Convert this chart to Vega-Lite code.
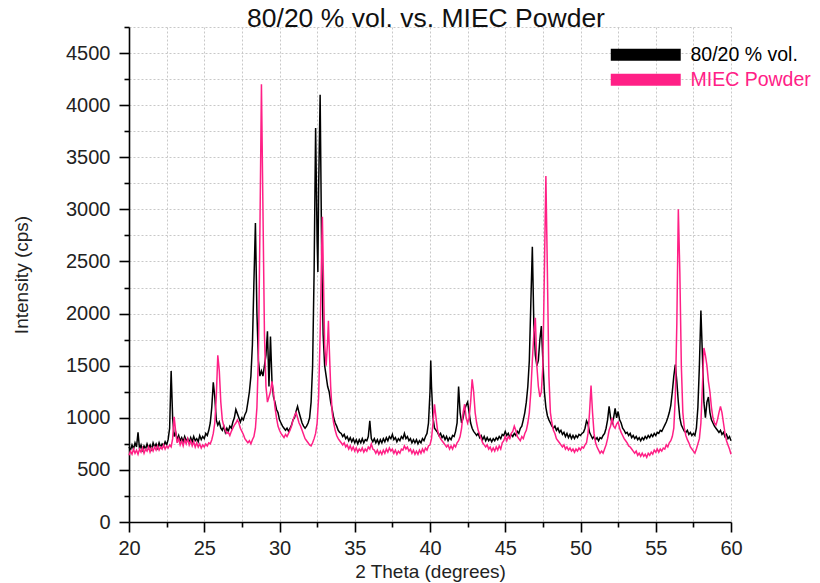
{
"$schema": "https://vega.github.io/schema/vega-lite/v6.json",
"width": 602, "height": 495,
"autosize": {"type": "none"},
"padding": {"left": 129, "top": 27, "right": 89, "bottom": 61},
"background": "white",
"title": {"text": "80/20 % vol. vs. MIEC Powder", "fontSize": 26.5, "fontWeight": "normal", "font": "Liberation Sans", "color": "#111111", "baseline": "alphabetic", "offset": -36, "anchor": "middle", "dx": -4},
"config": {
  "view": {"stroke": null},
  "axis": {"domainColor": "#000000", "domainWidth": 1.6, "tickColor": "#000000", "tickWidth": 1.6, "tickSize": 10, "labelColor": "#222222", "labelFont": "Liberation Sans", "labelFontSize": 20, "titleFont": "Liberation Sans", "titleFontSize": 19, "titleFontWeight": "normal", "titleColor": "#222222", "grid": true, "gridColor": "#c8c8c8", "gridDash": [2, 2], "gridWidth": 1}
},
"datasets": {
"black": [
{"x":20.0,"y":720},{"x":20.1,"y":690},{"x":20.2,"y":740},{"x":20.3,"y":700},{"x":20.4,"y":760},{"x":20.5,"y":720},{"x":20.6,"y":860},{"x":20.7,"y":700},{"x":20.8,"y":740},{"x":20.9,"y":690},
{"x":21.0,"y":730},{"x":21.1,"y":700},{"x":21.2,"y":750},{"x":21.3,"y":710},{"x":21.4,"y":740},{"x":21.5,"y":700},{"x":21.6,"y":760},{"x":21.7,"y":720},{"x":21.8,"y":750},{"x":21.9,"y":710},
{"x":22.0,"y":760},{"x":22.1,"y":720},{"x":22.2,"y":750},{"x":22.3,"y":730},{"x":22.4,"y":770},{"x":22.5,"y":740},{"x":22.6,"y":790},{"x":22.7,"y":900},{"x":22.8,"y":1450},{"x":22.9,"y":1000},
{"x":23.0,"y":820},{"x":23.1,"y":860},{"x":23.2,"y":790},{"x":23.3,"y":830},{"x":23.4,"y":780},{"x":23.5,"y":810},{"x":23.6,"y":770},{"x":23.7,"y":820},{"x":23.8,"y":780},{"x":23.9,"y":800},
{"x":24.0,"y":760},{"x":24.1,"y":810},{"x":24.2,"y":770},{"x":24.3,"y":820},{"x":24.4,"y":780},{"x":24.5,"y":800},{"x":24.6,"y":770},{"x":24.7,"y":830},{"x":24.8,"y":790},{"x":24.9,"y":820},
{"x":25.0,"y":800},{"x":25.1,"y":850},{"x":25.2,"y":830},{"x":25.3,"y":880},{"x":25.4,"y":950},{"x":25.5,"y":1100},{"x":25.6,"y":1340},{"x":25.7,"y":1200},{"x":25.8,"y":980},{"x":25.9,"y":930},
{"x":26.0,"y":960},{"x":26.1,"y":900},{"x":26.2,"y":880},{"x":26.3,"y":920},{"x":26.4,"y":860},{"x":26.5,"y":900},{"x":26.6,"y":870},{"x":26.7,"y":920},{"x":26.8,"y":900},{"x":26.9,"y":960},
{"x":27.0,"y":1000},{"x":27.1,"y":1080},{"x":27.2,"y":1040},{"x":27.3,"y":1000},{"x":27.4,"y":960},{"x":27.5,"y":1000},{"x":27.6,"y":980},{"x":27.7,"y":1030},{"x":27.8,"y":1060},{"x":27.9,"y":1150},
{"x":28.0,"y":1250},{"x":28.1,"y":1400},{"x":28.2,"y":1700},{"x":28.3,"y":2300},{"x":28.4,"y":2870},{"x":28.5,"y":2000},{"x":28.6,"y":1550},{"x":28.7,"y":1400},{"x":28.8,"y":1450},{"x":28.9,"y":1400},
{"x":29.0,"y":1500},{"x":29.1,"y":1600},{"x":29.2,"y":1830},{"x":29.3,"y":1300},{"x":29.4,"y":1780},{"x":29.5,"y":1350},{"x":29.6,"y":1200},{"x":29.7,"y":1150},{"x":29.8,"y":1080},{"x":29.9,"y":1050},
{"x":30.0,"y":980},{"x":30.1,"y":950},{"x":30.2,"y":920},{"x":30.3,"y":900},{"x":30.4,"y":880},{"x":30.5,"y":900},{"x":30.6,"y":870},{"x":30.7,"y":900},{"x":30.8,"y":930},{"x":30.9,"y":980},
{"x":31.0,"y":1000},{"x":31.1,"y":1060},{"x":31.2,"y":1110},{"x":31.3,"y":1050},{"x":31.4,"y":1000},{"x":31.5,"y":950},{"x":31.6,"y":920},{"x":31.7,"y":900},{"x":31.8,"y":920},{"x":31.9,"y":950},
{"x":32.0,"y":1000},{"x":32.1,"y":1150},{"x":32.2,"y":1500},{"x":32.3,"y":2400},{"x":32.4,"y":3780},{"x":32.5,"y":2700},{"x":32.55,"y":2400},{"x":32.6,"y":3200},{"x":32.7,"y":4100},{"x":32.8,"y":2600},{"x":32.9,"y":1800},
{"x":33.0,"y":1500},{"x":33.1,"y":1400},{"x":33.2,"y":1300},{"x":33.3,"y":1250},{"x":33.4,"y":1150},{"x":33.5,"y":1080},{"x":33.6,"y":1000},{"x":33.7,"y":950},{"x":33.8,"y":920},{"x":33.9,"y":880},
{"x":34.0,"y":860},{"x":34.1,"y":850},{"x":34.2,"y":820},{"x":34.3,"y":840},{"x":34.4,"y":800},{"x":34.5,"y":820},{"x":34.6,"y":780},{"x":34.7,"y":810},{"x":34.8,"y":770},{"x":34.9,"y":800},
{"x":35.0,"y":760},{"x":35.1,"y":790},{"x":35.2,"y":750},{"x":35.3,"y":790},{"x":35.4,"y":760},{"x":35.5,"y":800},{"x":35.6,"y":760},{"x":35.7,"y":790},{"x":35.8,"y":780},{"x":35.9,"y":820},
{"x":36.0,"y":970},{"x":36.1,"y":800},{"x":36.2,"y":770},{"x":36.3,"y":800},{"x":36.4,"y":760},{"x":36.5,"y":790},{"x":36.6,"y":750},{"x":36.7,"y":790},{"x":36.8,"y":760},{"x":36.9,"y":800},
{"x":37.0,"y":770},{"x":37.1,"y":810},{"x":37.2,"y":780},{"x":37.3,"y":820},{"x":37.4,"y":800},{"x":37.5,"y":840},{"x":37.6,"y":790},{"x":37.7,"y":810},{"x":37.8,"y":770},{"x":37.9,"y":800},
{"x":38.0,"y":780},{"x":38.1,"y":820},{"x":38.2,"y":800},{"x":38.3,"y":850},{"x":38.4,"y":800},{"x":38.5,"y":820},{"x":38.6,"y":780},{"x":38.7,"y":800},{"x":38.8,"y":760},{"x":38.9,"y":790},
{"x":39.0,"y":760},{"x":39.1,"y":790},{"x":39.2,"y":750},{"x":39.3,"y":780},{"x":39.4,"y":760},{"x":39.5,"y":800},{"x":39.6,"y":780},{"x":39.7,"y":820},{"x":39.8,"y":850},{"x":39.9,"y":950},
{"x":40.0,"y":1250},{"x":40.05,"y":1550},{"x":40.1,"y":1300},{"x":40.2,"y":1000},{"x":40.3,"y":900},{"x":40.4,"y":880},{"x":40.5,"y":860},{"x":40.6,"y":830},{"x":40.7,"y":850},{"x":40.8,"y":810},{"x":40.9,"y":830},
{"x":41.0,"y":790},{"x":41.1,"y":820},{"x":41.2,"y":780},{"x":41.3,"y":810},{"x":41.4,"y":790},{"x":41.5,"y":830},{"x":41.6,"y":820},{"x":41.7,"y":870},{"x":41.8,"y":950},{"x":41.9,"y":1300},
{"x":42.0,"y":1050},{"x":42.1,"y":950},{"x":42.2,"y":1000},{"x":42.3,"y":1080},{"x":42.4,"y":1120},{"x":42.5,"y":1150},{"x":42.6,"y":1050},{"x":42.7,"y":950},{"x":42.8,"y":900},{"x":42.9,"y":870},
{"x":43.0,"y":850},{"x":43.1,"y":830},{"x":43.2,"y":850},{"x":43.3,"y":810},{"x":43.4,"y":830},{"x":43.5,"y":790},{"x":43.6,"y":820},{"x":43.7,"y":780},{"x":43.8,"y":810},{"x":43.9,"y":780},
{"x":44.0,"y":800},{"x":44.1,"y":770},{"x":44.2,"y":800},{"x":44.3,"y":780},{"x":44.4,"y":810},{"x":44.5,"y":790},{"x":44.6,"y":820},{"x":44.7,"y":800},{"x":44.8,"y":840},{"x":44.9,"y":830},
{"x":45.0,"y":870},{"x":45.1,"y":830},{"x":45.2,"y":850},{"x":45.3,"y":810},{"x":45.4,"y":840},{"x":45.5,"y":820},{"x":45.6,"y":850},{"x":45.7,"y":830},{"x":45.8,"y":870},{"x":45.9,"y":850},
{"x":46.0,"y":900},{"x":46.1,"y":920},{"x":46.2,"y":980},{"x":46.3,"y":1050},{"x":46.4,"y":1150},{"x":46.5,"y":1300},{"x":46.6,"y":1550},{"x":46.7,"y":2100},{"x":46.8,"y":2640},{"x":46.9,"y":1900},
{"x":47.0,"y":1600},{"x":47.1,"y":1500},{"x":47.2,"y":1550},{"x":47.3,"y":1750},{"x":47.4,"y":1880},{"x":47.5,"y":1550},{"x":47.6,"y":1250},{"x":47.7,"y":1100},{"x":47.8,"y":1020},{"x":47.9,"y":980},
{"x":48.0,"y":950},{"x":48.1,"y":920},{"x":48.2,"y":900},{"x":48.3,"y":920},{"x":48.4,"y":880},{"x":48.5,"y":900},{"x":48.6,"y":860},{"x":48.7,"y":880},{"x":48.8,"y":840},{"x":48.9,"y":860},
{"x":49.0,"y":820},{"x":49.1,"y":850},{"x":49.2,"y":810},{"x":49.3,"y":840},{"x":49.4,"y":800},{"x":49.5,"y":830},{"x":49.6,"y":800},{"x":49.7,"y":830},{"x":49.8,"y":810},{"x":49.9,"y":840},
{"x":50.0,"y":830},{"x":50.1,"y":850},{"x":50.2,"y":860},{"x":50.3,"y":900},{"x":50.4,"y":970},{"x":50.5,"y":940},{"x":50.6,"y":860},{"x":50.7,"y":830},{"x":50.8,"y":800},{"x":50.9,"y":820},
{"x":51.0,"y":790},{"x":51.1,"y":810},{"x":51.2,"y":780},{"x":51.3,"y":810},{"x":51.4,"y":800},{"x":51.5,"y":830},{"x":51.6,"y":850},{"x":51.7,"y":900},{"x":51.8,"y":980},{"x":51.9,"y":1110},
{"x":52.0,"y":1000},{"x":52.1,"y":950},{"x":52.2,"y":1000},{"x":52.3,"y":1090},{"x":52.4,"y":1000},{"x":52.5,"y":1060},{"x":52.6,"y":980},{"x":52.7,"y":950},{"x":52.8,"y":900},{"x":52.9,"y":880},
{"x":53.0,"y":850},{"x":53.1,"y":860},{"x":53.2,"y":830},{"x":53.3,"y":850},{"x":53.4,"y":810},{"x":53.5,"y":830},{"x":53.6,"y":800},{"x":53.7,"y":820},{"x":53.8,"y":790},{"x":53.9,"y":810},
{"x":54.0,"y":780},{"x":54.1,"y":810},{"x":54.2,"y":790},{"x":54.3,"y":820},{"x":54.4,"y":800},{"x":54.5,"y":830},{"x":54.6,"y":810},{"x":54.7,"y":840},{"x":54.8,"y":820},{"x":54.9,"y":850},
{"x":55.0,"y":830},{"x":55.1,"y":860},{"x":55.2,"y":850},{"x":55.3,"y":880},{"x":55.4,"y":870},{"x":55.5,"y":900},{"x":55.6,"y":930},{"x":55.7,"y":960},{"x":55.8,"y":1000},{"x":55.9,"y":1050},
{"x":56.0,"y":1120},{"x":56.1,"y":1250},{"x":56.2,"y":1400},{"x":56.3,"y":1510},{"x":56.4,"y":1350},{"x":56.5,"y":1150},{"x":56.6,"y":1000},{"x":56.7,"y":930},{"x":56.8,"y":900},{"x":56.9,"y":870},
{"x":57.0,"y":860},{"x":57.1,"y":880},{"x":57.2,"y":840},{"x":57.3,"y":860},{"x":57.4,"y":830},{"x":57.5,"y":850},{"x":57.6,"y":830},{"x":57.7,"y":900},{"x":57.8,"y":1100},{"x":57.9,"y":1500},
{"x":58.0,"y":2030},{"x":58.1,"y":1600},{"x":58.2,"y":1150},{"x":58.3,"y":1000},{"x":58.4,"y":1150},{"x":58.5,"y":1200},{"x":58.6,"y":1050},{"x":58.7,"y":980},{"x":58.8,"y":950},{"x":58.9,"y":920},
{"x":59.0,"y":900},{"x":59.1,"y":880},{"x":59.2,"y":860},{"x":59.3,"y":880},{"x":59.4,"y":840},{"x":59.5,"y":860},{"x":59.6,"y":820},{"x":59.7,"y":840},{"x":59.8,"y":800},{"x":59.9,"y":820},
{"x":60.0,"y":780}
],
"pink": [
{"x":20.0,"y":640},{"x":20.1,"y":680},{"x":20.2,"y":650},{"x":20.3,"y":700},{"x":20.4,"y":660},{"x":20.5,"y":690},{"x":20.6,"y":650},{"x":20.7,"y":700},{"x":20.8,"y":670},{"x":20.9,"y":710},
{"x":21.0,"y":660},{"x":21.1,"y":700},{"x":21.2,"y":680},{"x":21.3,"y":720},{"x":21.4,"y":670},{"x":21.5,"y":710},{"x":21.6,"y":680},{"x":21.7,"y":720},{"x":21.8,"y":690},{"x":21.9,"y":730},
{"x":22.0,"y":690},{"x":22.1,"y":720},{"x":22.2,"y":700},{"x":22.3,"y":740},{"x":22.4,"y":700},{"x":22.5,"y":730},{"x":22.6,"y":710},{"x":22.7,"y":740},{"x":22.8,"y":720},{"x":22.9,"y":800},
{"x":23.0,"y":1010},{"x":23.1,"y":870},{"x":23.2,"y":760},{"x":23.3,"y":800},{"x":23.4,"y":740},{"x":23.5,"y":780},{"x":23.6,"y":730},{"x":23.7,"y":790},{"x":23.8,"y":750},{"x":23.9,"y":800},
{"x":24.0,"y":740},{"x":24.1,"y":780},{"x":24.2,"y":730},{"x":24.3,"y":770},{"x":24.4,"y":720},{"x":24.5,"y":760},{"x":24.6,"y":720},{"x":24.7,"y":750},{"x":24.8,"y":710},{"x":24.9,"y":740},
{"x":25.0,"y":720},{"x":25.1,"y":750},{"x":25.2,"y":730},{"x":25.3,"y":760},{"x":25.4,"y":750},{"x":25.5,"y":790},{"x":25.6,"y":850},{"x":25.7,"y":950},{"x":25.8,"y":1200},{"x":25.9,"y":1600},
{"x":26.0,"y":1450},{"x":26.1,"y":1150},{"x":26.2,"y":980},{"x":26.3,"y":920},{"x":26.4,"y":880},{"x":26.5,"y":850},{"x":26.6,"y":860},{"x":26.7,"y":830},{"x":26.8,"y":870},{"x":26.9,"y":900},
{"x":27.0,"y":930},{"x":27.1,"y":950},{"x":27.2,"y":980},{"x":27.3,"y":950},{"x":27.4,"y":900},{"x":27.5,"y":870},{"x":27.6,"y":840},{"x":27.7,"y":800},{"x":27.8,"y":780},{"x":27.9,"y":760},
{"x":28.0,"y":780},{"x":28.1,"y":750},{"x":28.2,"y":790},{"x":28.3,"y":820},{"x":28.4,"y":900},{"x":28.5,"y":1100},{"x":28.6,"y":1600},{"x":28.7,"y":2800},{"x":28.8,"y":4200},{"x":28.9,"y":3000},
{"x":29.0,"y":1800},{"x":29.1,"y":1300},{"x":29.2,"y":1150},{"x":29.3,"y":1200},{"x":29.4,"y":1250},{"x":29.5,"y":1350},{"x":29.6,"y":1250},{"x":29.7,"y":1100},{"x":29.8,"y":1000},{"x":29.9,"y":920},
{"x":30.0,"y":880},{"x":30.1,"y":850},{"x":30.2,"y":830},{"x":30.3,"y":810},{"x":30.4,"y":840},{"x":30.5,"y":820},{"x":30.6,"y":850},{"x":30.7,"y":880},{"x":30.8,"y":920},{"x":30.9,"y":980},
{"x":31.0,"y":1020},{"x":31.1,"y":1050},{"x":31.2,"y":1000},{"x":31.3,"y":950},{"x":31.4,"y":920},{"x":31.5,"y":880},{"x":31.6,"y":840},{"x":31.7,"y":800},{"x":31.8,"y":780},{"x":31.9,"y":760},
{"x":32.0,"y":740},{"x":32.1,"y":730},{"x":32.2,"y":760},{"x":32.3,"y":800},{"x":32.4,"y":850},{"x":32.5,"y":950},{"x":32.6,"y":1200},{"x":32.7,"y":1800},{"x":32.8,"y":2600},{"x":32.85,"y":2930},{"x":32.9,"y":2500},
{"x":33.0,"y":1700},{"x":33.1,"y":1500},{"x":33.2,"y":1750},{"x":33.25,"y":1930},{"x":33.3,"y":1700},{"x":33.4,"y":1300},{"x":33.5,"y":1050},{"x":33.6,"y":950},{"x":33.7,"y":880},{"x":33.8,"y":830},{"x":33.9,"y":800},
{"x":34.0,"y":780},{"x":34.1,"y":760},{"x":34.2,"y":740},{"x":34.3,"y":760},{"x":34.4,"y":720},{"x":34.5,"y":740},{"x":34.6,"y":700},{"x":34.7,"y":730},{"x":34.8,"y":690},{"x":34.9,"y":720},
{"x":35.0,"y":680},{"x":35.1,"y":710},{"x":35.2,"y":670},{"x":35.3,"y":700},{"x":35.4,"y":680},{"x":35.5,"y":710},{"x":35.6,"y":670},{"x":35.7,"y":700},{"x":35.8,"y":680},{"x":35.9,"y":720},
{"x":36.0,"y":700},{"x":36.1,"y":750},{"x":36.2,"y":700},{"x":36.3,"y":690},{"x":36.4,"y":660},{"x":36.5,"y":690},{"x":36.6,"y":650},{"x":36.7,"y":680},{"x":36.8,"y":650},{"x":36.9,"y":690},
{"x":37.0,"y":660},{"x":37.1,"y":700},{"x":37.2,"y":670},{"x":37.3,"y":710},{"x":37.4,"y":680},{"x":37.5,"y":700},{"x":37.6,"y":660},{"x":37.7,"y":690},{"x":37.8,"y":650},{"x":37.9,"y":680},
{"x":38.0,"y":660},{"x":38.1,"y":700},{"x":38.2,"y":690},{"x":38.3,"y":730},{"x":38.4,"y":700},{"x":38.5,"y":720},{"x":38.6,"y":680},{"x":38.7,"y":700},{"x":38.8,"y":660},{"x":38.9,"y":690},
{"x":39.0,"y":650},{"x":39.1,"y":680},{"x":39.2,"y":650},{"x":39.3,"y":690},{"x":39.4,"y":660},{"x":39.5,"y":700},{"x":39.6,"y":670},{"x":39.7,"y":710},{"x":39.8,"y":690},{"x":39.9,"y":730},
{"x":40.0,"y":740},{"x":40.1,"y":800},{"x":40.2,"y":950},{"x":40.3,"y":1130},{"x":40.4,"y":1000},{"x":40.5,"y":880},{"x":40.6,"y":830},{"x":40.7,"y":800},{"x":40.8,"y":780},{"x":40.9,"y":760},
{"x":41.0,"y":740},{"x":41.1,"y":720},{"x":41.2,"y":740},{"x":41.3,"y":700},{"x":41.4,"y":730},{"x":41.5,"y":700},{"x":41.6,"y":740},{"x":41.7,"y":720},{"x":41.8,"y":760},{"x":41.9,"y":780},
{"x":42.0,"y":820},{"x":42.1,"y":900},{"x":42.2,"y":1050},{"x":42.3,"y":1130},{"x":42.4,"y":1000},{"x":42.5,"y":950},{"x":42.6,"y":1000},{"x":42.7,"y":1150},{"x":42.8,"y":1370},{"x":42.9,"y":1250},
{"x":43.0,"y":1050},{"x":43.1,"y":950},{"x":43.2,"y":880},{"x":43.3,"y":840},{"x":43.4,"y":800},{"x":43.5,"y":760},{"x":43.6,"y":740},{"x":43.7,"y":720},{"x":43.8,"y":740},{"x":43.9,"y":700},
{"x":44.0,"y":720},{"x":44.1,"y":680},{"x":44.2,"y":710},{"x":44.3,"y":680},{"x":44.4,"y":720},{"x":44.5,"y":690},{"x":44.6,"y":730},{"x":44.7,"y":700},{"x":44.8,"y":760},{"x":44.9,"y":780},
{"x":45.0,"y":820},{"x":45.1,"y":780},{"x":45.2,"y":820},{"x":45.3,"y":800},{"x":45.4,"y":850},{"x":45.5,"y":870},{"x":45.6,"y":920},{"x":45.7,"y":880},{"x":45.8,"y":820},{"x":45.9,"y":800},
{"x":46.0,"y":780},{"x":46.1,"y":820},{"x":46.2,"y":800},{"x":46.3,"y":850},{"x":46.4,"y":880},{"x":46.5,"y":950},{"x":46.6,"y":1050},{"x":46.7,"y":1250},{"x":46.8,"y":1550},{"x":46.9,"y":1800},
{"x":47.0,"y":1960},{"x":47.1,"y":1500},{"x":47.2,"y":1300},{"x":47.3,"y":1200},{"x":47.4,"y":1250},{"x":47.5,"y":1500},{"x":47.6,"y":2400},{"x":47.7,"y":3320},{"x":47.8,"y":2400},{"x":47.9,"y":1400},
{"x":48.0,"y":1050},{"x":48.1,"y":950},{"x":48.2,"y":880},{"x":48.3,"y":850},{"x":48.4,"y":800},{"x":48.5,"y":780},{"x":48.6,"y":760},{"x":48.7,"y":740},{"x":48.8,"y":720},{"x":48.9,"y":740},
{"x":49.0,"y":700},{"x":49.1,"y":720},{"x":49.2,"y":690},{"x":49.3,"y":710},{"x":49.4,"y":680},{"x":49.5,"y":700},{"x":49.6,"y":670},{"x":49.7,"y":700},{"x":49.8,"y":680},{"x":49.9,"y":710},
{"x":50.0,"y":690},{"x":50.1,"y":720},{"x":50.2,"y":710},{"x":50.3,"y":740},{"x":50.4,"y":760},{"x":50.5,"y":850},{"x":50.6,"y":1050},{"x":50.7,"y":1310},{"x":50.8,"y":1050},{"x":50.9,"y":850},
{"x":51.0,"y":760},{"x":51.1,"y":720},{"x":51.2,"y":690},{"x":51.3,"y":660},{"x":51.4,"y":680},{"x":51.5,"y":660},{"x":51.6,"y":700},{"x":51.7,"y":740},{"x":51.8,"y":800},{"x":51.9,"y":880},
{"x":52.0,"y":920},{"x":52.1,"y":1000},{"x":52.2,"y":920},{"x":52.3,"y":900},{"x":52.4,"y":940},{"x":52.5,"y":960},{"x":52.6,"y":900},{"x":52.7,"y":860},{"x":52.8,"y":830},{"x":52.9,"y":800},
{"x":53.0,"y":780},{"x":53.1,"y":760},{"x":53.2,"y":730},{"x":53.3,"y":720},{"x":53.4,"y":700},{"x":53.5,"y":680},{"x":53.6,"y":660},{"x":53.7,"y":680},{"x":53.8,"y":640},{"x":53.9,"y":660},
{"x":54.0,"y":630},{"x":54.1,"y":660},{"x":54.2,"y":630},{"x":54.3,"y":650},{"x":54.4,"y":620},{"x":54.5,"y":660},{"x":54.6,"y":640},{"x":54.7,"y":670},{"x":54.8,"y":650},{"x":54.9,"y":690},
{"x":55.0,"y":670},{"x":55.1,"y":700},{"x":55.2,"y":670},{"x":55.3,"y":700},{"x":55.4,"y":680},{"x":55.5,"y":710},{"x":55.6,"y":700},{"x":55.7,"y":740},{"x":55.8,"y":720},{"x":55.9,"y":760},
{"x":56.0,"y":780},{"x":56.1,"y":820},{"x":56.2,"y":900},{"x":56.3,"y":1200},{"x":56.4,"y":1900},{"x":56.5,"y":3000},{"x":56.6,"y":2400},{"x":56.7,"y":1500},{"x":56.8,"y":1050},{"x":56.9,"y":900},
{"x":57.0,"y":830},{"x":57.1,"y":790},{"x":57.2,"y":760},{"x":57.3,"y":720},{"x":57.4,"y":700},{"x":57.5,"y":680},{"x":57.6,"y":660},{"x":57.7,"y":700},{"x":57.8,"y":750},{"x":57.9,"y":800},
{"x":58.0,"y":950},{"x":58.1,"y":1300},{"x":58.2,"y":1670},{"x":58.3,"y":1600},{"x":58.4,"y":1500},{"x":58.5,"y":1350},{"x":58.6,"y":1250},{"x":58.7,"y":1100},{"x":58.8,"y":1000},{"x":58.9,"y":950},
{"x":59.0,"y":930},{"x":59.1,"y":980},{"x":59.2,"y":1050},{"x":59.3,"y":1110},{"x":59.4,"y":1050},{"x":59.5,"y":950},{"x":59.6,"y":850},{"x":59.7,"y":780},{"x":59.8,"y":740},{"x":59.9,"y":700},
{"x":60.0,"y":650}
]
},
"encoding": {
  "x": {"field": "x", "type": "quantitative", "title": "2 Theta (degrees)",
    "scale": {"domain": [20, 60], "nice": false, "zero": false},
    "axis": {"values": [20, 22.5, 25, 27.5, 30, 32.5, 35, 37.5, 40, 42.5, 45, 47.5, 50, 52.5, 55, 57.5, 60],
      "labelExpr": "datum.value % 5 === 0 ? datum.label : ''",
      "tickDash": {"condition": {"test": "datum.value % 5 === 0", "value": [20, 20]}, "value": [5, 20]},
      "labelPadding": 6, "titlePadding": 4, "labelFlush": false, "labelOverlap": false}},
  "y": {"field": "y", "type": "quantitative", "title": "Intensity (cps)",
    "scale": {"domain": [0, 4750], "nice": false, "zero": true},
    "axis": {"values": [0, 250, 500, 750, 1000, 1250, 1500, 1750, 2000, 2250, 2500, 2750, 3000, 3250, 3500, 3750, 4000, 4250, 4500, 4750],
      "labelExpr": "datum.value % 500 === 0 ? datum.label : ''",
      "format": "d",
      "tickDash": {"condition": {"test": "datum.value % 500 === 0", "value": [20, 20]}, "value": [5, 20]},
      "labelPadding": 9, "titlePadding": 34, "labelFlush": false, "labelOverlap": false}}
},
"layer": [
  {"data": {"name": "black"}, "mark": {"type": "line", "strokeWidth": 1.5, "interpolate": "linear"},
   "encoding": {"color": {"datum": "80/20 % vol.", "type": "nominal",
     "scale": {"domain": ["80/20 % vol.", "MIEC Powder"], "range": ["#000000", "#ff2086"]},
     "legend": {"orient": "none", "legendX": 507, "legendY": 18, "title": null, "padding": 0,
       "symbolType": "M-5.83,-1L5.83,-1L5.83,1L-5.83,1Z", "symbolSize": 144, "symbolStrokeWidth": 0,
       "labelFont": "Liberation Sans", "labelFontSize": 19.5, "labelOffset": 35, "rowPadding": 4, "labelLimit": 300,
       "encode": {"symbols": {"update": {"fill": {"scale": "color", "field": "value"}, "fillOpacity": {"value": 1}, "strokeWidth": {"value": 0}}},
                  "labels": {"update": {"fill": {"scale": "color", "field": "value"}}}}}}}},
  {"data": {"name": "pink"}, "mark": {"type": "line", "strokeWidth": 1.5, "interpolate": "linear"},
   "encoding": {"color": {"datum": "MIEC Powder", "type": "nominal"}}}
]
}
